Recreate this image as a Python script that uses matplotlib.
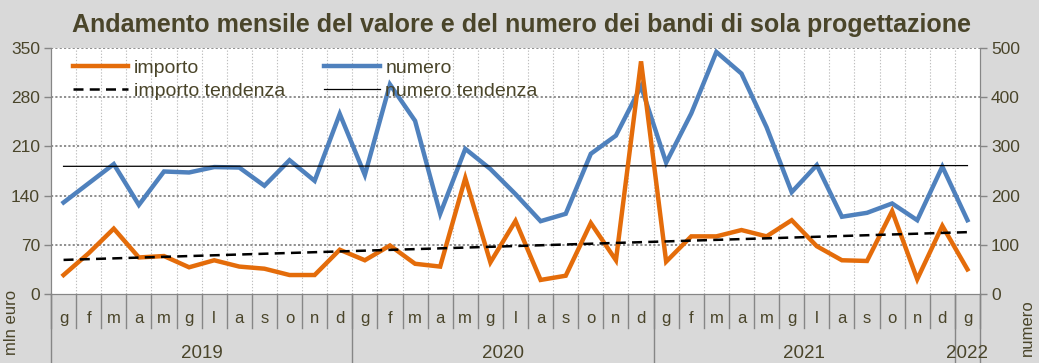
import matplotlib
matplotlib.use("Agg")
import matplotlib.pyplot as plt
import matplotlib.transforms as mtransforms
from matplotlib.lines import Line2D

# ---- data ----
months = ["g", "f", "m", "a", "m", "g", "l", "a", "s", "o", "n", "d"] * 3 + ["g"]
years = ["2019", "2020", "2021", "2022"]
year_spans = [(0, 11), (12, 23), (24, 35), (36, 36)]

importo = [27, 58, 93, 52, 54, 38, 48, 39, 36, 27, 27, 63,
           48, 69, 43, 39, 165, 45, 104, 20, 26, 101, 48, 331,
           46, 82, 82, 91, 82, 105, 68, 48, 47, 118, 21, 97, 35]
numero = [186, 225, 264, 181, 249, 247, 258, 257, 220, 272, 230, 366,
          242, 426, 352, 163, 295, 254, 203, 148, 163, 285, 322, 422,
          267, 367, 492, 448, 339, 207, 262, 157, 165, 184, 150, 259, 150]
importo_trend = [48.5, 88]
numero_trend = [259.5, 261]
trend_x = [0, 36]

# ---- style ----
BG = "#d9d9d9"
TXT = "#4a452a"
ORANGE = "#e46c0a"
BLUE = "#4f81bd"
GRID = "#868686"
plt.rcParams["font.family"] = ["Liberation Sans", "DejaVu Sans"]

fig = plt.figure(figsize=(10.39, 3.63), dpi=100, facecolor=BG)
ax2 = fig.add_axes([51 / 1039, 69 / 363, 929 / 1039, 246 / 363])
ax = ax2.twinx()
ax.set_zorder(ax2.get_zorder() + 1)
ax.patch.set_visible(False)
ax2.set_facecolor("white")

n = len(months)
x = list(range(n))

ax2.yaxis.tick_right()
ax2.yaxis.set_label_position("right")
ax.yaxis.tick_left()
ax.yaxis.set_label_position("left")

ax.set_xlim(-0.5, n - 0.5)
ax.set_ylim(0, 350)
ax2.set_ylim(0, 500)
ax.set_yticks(range(0, 351, 70))
ax2.set_yticks(range(0, 501, 100))

# grid
for v in range(70, 351, 70):
    ax2.axhline(v * 500 / 350, color=GRID, lw=1.3, ls=(0, (1.2, 1.2)), zorder=1)
for b in range(1, n):
    ax2.axvline(b - 0.5, color="#bfbfbf", lw=0.8, ls=(0, (1.2, 1.6)), zorder=0.5)

# lines
ax2.plot(x, numero, color=BLUE, lw=3.2, solid_joinstyle="miter", zorder=3)
ax2.plot(trend_x, numero_trend, color="black", lw=0.9, zorder=4)
ax.plot(x, importo, color=ORANGE, lw=3.2, solid_joinstyle="miter", zorder=3)
ax.plot(trend_x, importo_trend, color="black", lw=1.8, ls=(0, (4, 2.5)), zorder=4)

for a in (ax, ax2):
    a.spines["top"].set_visible(False)
    a.spines["left"].set_color(GRID)
    a.spines["right"].set_color(GRID)
    a.spines["bottom"].set_color(GRID)
    a.tick_params(axis="y", colors=GRID, labelcolor=TXT, labelsize=12.5,
                  length=5, width=1, direction="out", pad=3)

ax.set_xticks([])
ax2.set_xticks([])

# category axis
trans = mtransforms.blended_transform_factory(ax.transData, ax.transAxes)
for i, m in enumerate(months):
    ax.text(i, -0.098, m, transform=trans, ha="center", va="center",
            fontsize=12, color=TXT, clip_on=False)
for b in range(n + 1):
    ax.plot([b - 0.5, b - 0.5], [0, -0.14], transform=trans, color=GRID,
            lw=1, clip_on=False)
year_bounds = [-0.5, 11.5, 23.5, 35.5, 36.5]
for b in year_bounds:
    ax.plot([b, b], [0, -0.276], transform=trans, color=GRID, lw=1, clip_on=False)
for yl, (s, e) in zip(years, year_spans):
    ax.text((s + e) / 2, -0.243, yl, transform=trans, ha="center", va="center",
            fontsize=13.5, color=TXT, clip_on=False)

fig.text(12 / 1039, 1 - 322 / 363, "mln euro", rotation=90, ha="center",
         va="center", fontsize=12, color=TXT)
fig.text(1027 / 1039, 1 - 328 / 363, "numero", rotation=90, ha="center",
         va="center", fontsize=12, color=TXT)

fig.text(521 / 1039, 1 - 25 / 363,
         "Andamento mensile del valore e del numero dei bandi di sola progettazione",
         ha="center", va="center", fontsize=18, fontweight="bold", color=TXT)

handles = [
    Line2D([], [], color=ORANGE, lw=3.2),
    Line2D([], [], color="black", lw=1.8, ls=(0, (4, 2.5))),
    Line2D([], [], color=BLUE, lw=3.2),
    Line2D([], [], color="black", lw=0.9),
]
labels = ["importo", "importo tendenza", "numero", "numero tendenza"]
leg = ax.legend(handles, labels, ncol=2, loc="upper left",
                bbox_to_anchor=(14 / 929, 0.985), frameon=False,
                fontsize=14, handlelength=2.85, handletextpad=0.3,
                columnspacing=2.0, labelspacing=0.25, borderaxespad=0)
for t in leg.get_texts():
    t.set_color(TXT)

fig.savefig("out.png", dpi=100, facecolor=BG)
